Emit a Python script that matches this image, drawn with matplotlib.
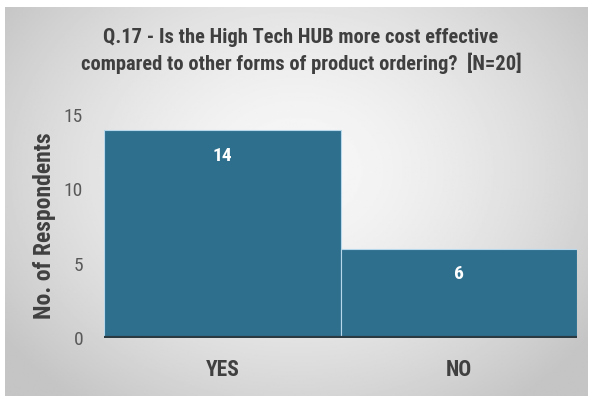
import numpy as np
import matplotlib
matplotlib.use("Agg")
import matplotlib.pyplot as plt
from matplotlib import font_manager

categories = ["YES", "NO"]
counts = [14, 6]
yticks = [0, 5, 10, 15]
title = "Q.17 - Is the High Tech HUB more cost effective\ncompared to other forms of product ordering?  [N=20]"
ylabel = "No. of Respondents"

available = {f.name for f in font_manager.fontManager.ttflist}
family = [f for f in ["Liberation Sans Narrow", "Roboto Condensed", "DejaVu Sans"] if f in available]
plt.rcParams["font.family"] = family

W, H = 598, 397
fig = plt.figure(figsize=(W / 100, H / 100), dpi=100)
fig.patch.set_facecolor("white")

# panel with soft radial grey gradient
bg = fig.add_axes([5 / W, 1 - 396 / H, 583 / W, 389 / H])
yy, xx = np.mgrid[0:1:300j, 0:1:400j]
r = np.sqrt(((xx - 0.5) / 0.62) ** 2 + ((yy - 0.42) / 0.75) ** 2)
shade = 0.97 - 0.2 * np.clip(r, 0, 1) ** 1.6
bg.imshow(shade, cmap="gray", vmin=0, vmax=1, aspect="auto", extent=[0, 1, 1, 0])
bg.set_axis_off()

ax = fig.add_axes([104 / W, 1 - 338 / H, 473 / W, 223 / H])
ax.patch.set_alpha(0)
x = np.arange(len(categories))
bars = ax.bar(x, counts, width=1.0, color="#2f6f8e", edgecolor="#b6d8ea", linewidth=0.8, zorder=2)
ax.axhline(0, color="#2b3a40", lw=3, zorder=3)
ax.set_xlim(-0.5, len(categories) - 0.5)
ax.set_ylim(0, 15)
ax.set_yticks(yticks)
ax.set_xticks(x)
ax.set_xticklabels(categories, fontsize=15.5, fontweight="bold", color="#404040")
ax.tick_params(axis="y", labelsize=14, labelcolor="#595959", length=0, pad=15)
ax.tick_params(axis="x", length=0, pad=15)
for s in ax.spines.values():
    s.set_visible(False)

for b, v in zip(bars, counts):
    ax.annotate(str(v), (b.get_x() + b.get_width() / 2, v), xytext=(0, -18.5),
                textcoords="offset points", ha="center", va="center",
                fontsize=14, fontweight="bold", color="white", zorder=4)

fig.text(44 / W, 1 - 226 / H, ylabel, rotation=90, ha="center", va="center",
         fontsize=17, fontweight="bold", color="#404040")
fig.text(301 / W, 1 - 51 / H, title, ha="center", va="center", fontsize=14.75,
         fontweight="bold", color="#3f3f3f", linespacing=1.35)

fig.savefig("out.png", dpi=100)
